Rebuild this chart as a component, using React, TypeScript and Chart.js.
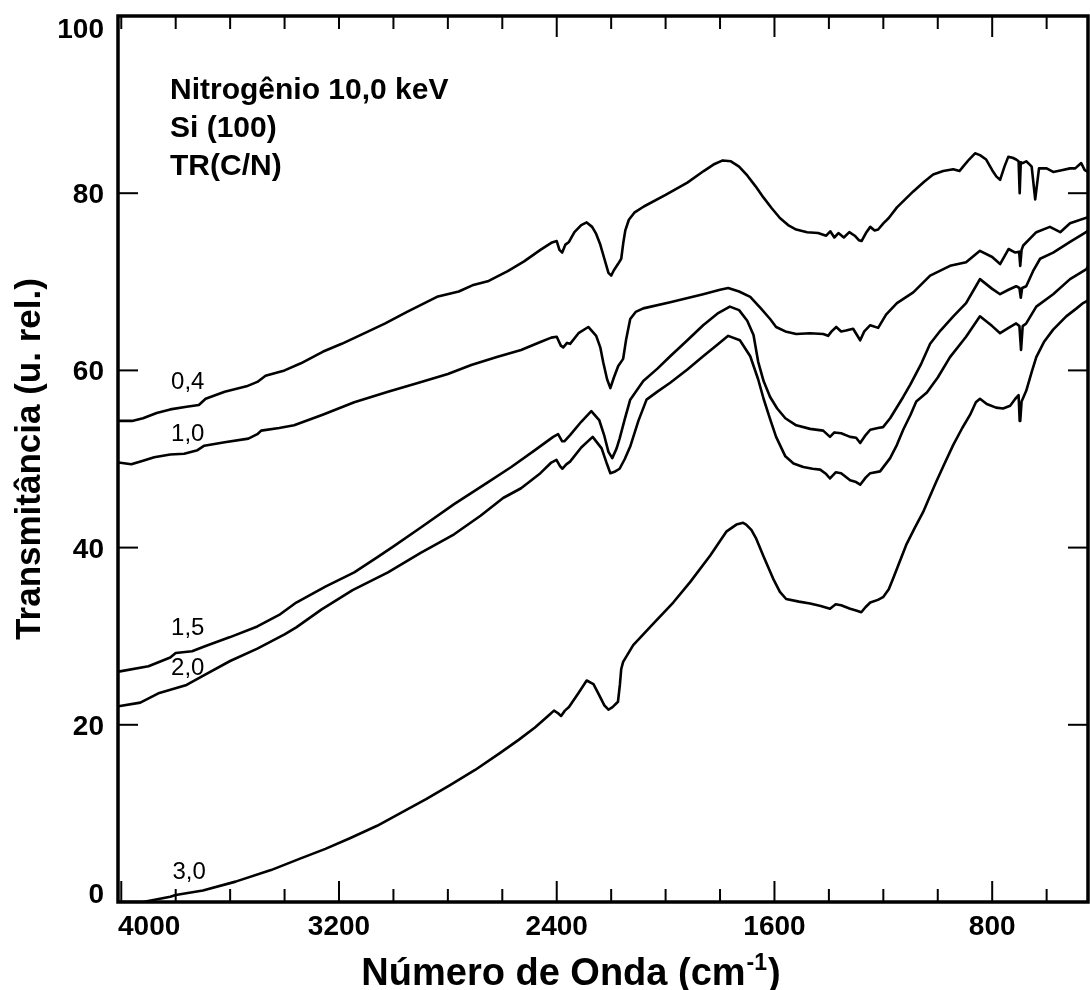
import React, { useEffect, useRef } from 'react';
import { Chart, registerables } from 'chart.js';

Chart.register(...registerables);

// ---- axis ranges & ticks ----
const X_LEFT = 4012;
const X_RIGHT = 448;
const Y_MIN = 0;
const Y_MAX = 100;
const X_TICKS = [4000, 3800, 3600, 3400, 3200, 3000, 2800, 2600, 2400, 2200, 2000, 1800, 1600, 1400, 1200, 1000, 800, 600];
const X_TICK_LABELS = [4000, 3200, 2400, 1600, 800];
const X_TOP_MAJOR = [2400, 1600, 800];
const Y_TICKS = [0, 20, 40, 60, 80, 100];

// ---- series (wavenumber cm-1, transmittance) ----
const WN_04 = [4010, 3960, 3920, 3870, 3820, 3760, 3715, 3690, 3620, 3540, 3500, 3470, 3400, 3340, 3260, 3190, 3100, 3030, 2950, 2840, 2760, 2710, 2650, 2580, 2520, 2460, 2420, 2400, 2390, 2380, 2368, 2355, 2335, 2310, 2290, 2270, 2255, 2240, 2225, 2210, 2200, 2190, 2175, 2163, 2155, 2148, 2135, 2115, 2080, 2000, 1920, 1860, 1820, 1790, 1760, 1730, 1700, 1670, 1640, 1610, 1580, 1550, 1520, 1480, 1440, 1410, 1395, 1380, 1365, 1345, 1325, 1305, 1290, 1280, 1262, 1248, 1232, 1219, 1200, 1180, 1150, 1120, 1090, 1050, 1017, 980, 943, 920, 907, 885, 863, 845, 822, 800, 785, 771, 755, 741, 725, 712, 703, 699, 695, 688, 675, 661, 655, 642, 628, 620, 600, 576, 545, 514, 495, 473, 460, 448];
const T_04 = [54.3, 54.3, 54.6, 55.2, 55.6, 55.9, 56.1, 56.8, 57.6, 58.2, 58.7, 59.4, 60.0, 60.8, 62.1, 63.0, 64.3, 65.3, 66.6, 68.3, 68.9, 69.6, 70.1, 71.2, 72.3, 73.6, 74.4, 74.6, 73.6, 73.3, 74.2, 74.5, 75.6, 76.4, 76.7, 76.2, 75.4, 74.2, 72.6, 71.0, 70.7, 71.3, 72.0, 72.6, 74.5, 75.8, 77.0, 77.8, 78.5, 79.8, 81.2, 82.5, 83.3, 83.7, 83.6, 83.0, 82.0, 80.8, 79.5, 78.3, 77.2, 76.4, 75.9, 75.6, 75.5, 75.2, 75.7, 75.0, 75.5, 75.0, 75.6, 75.2, 74.7, 74.6, 75.6, 76.2, 75.8, 75.9, 76.6, 77.2, 78.4, 79.3, 80.2, 81.3, 82.1, 82.5, 82.7, 82.5, 83.0, 83.8, 84.5, 84.3, 83.8, 82.6, 81.9, 81.5, 83.0, 84.1, 84.0, 83.8, 83.6, 80.0, 83.5, 83.4, 83.6, 83.2, 83.0, 79.3, 82.8, 82.8, 82.8, 82.4, 82.6, 82.8, 82.8, 83.4, 82.6, 82.4];

const WN_10 = [4010, 3963, 3920, 3879, 3820, 3769, 3720, 3695, 3620, 3533, 3500, 3486, 3420, 3365, 3260, 3144, 3020, 2898, 2800, 2714, 2620, 2531, 2460, 2420, 2400, 2385, 2376, 2362, 2351, 2320, 2284, 2255, 2240, 2229, 2215, 2203, 2190, 2174, 2156, 2145, 2130, 2110, 2082, 1983, 1862, 1800, 1770, 1730, 1689, 1650, 1616, 1594, 1560, 1520, 1470, 1421, 1403, 1390, 1373, 1355, 1337, 1311, 1285, 1270, 1248, 1219, 1190, 1150, 1090, 1028, 955, 896, 845, 800, 771, 740, 715, 701, 697, 692, 686, 638, 588, 550, 514, 448];
const T_10 = [49.6, 49.4, 49.8, 50.2, 50.5, 50.6, 51.0, 51.5, 51.9, 52.3, 52.8, 53.2, 53.5, 53.8, 55.0, 56.4, 57.6, 58.7, 59.6, 60.6, 61.5, 62.3, 63.2, 63.7, 63.8, 62.8, 62.6, 63.1, 63.0, 64.2, 64.9, 63.9, 62.6, 60.9, 59.0, 58.0, 59.2, 60.5, 61.3, 63.5, 65.8, 66.6, 67.0, 67.7, 68.6, 69.1, 69.3, 68.9, 68.3, 67.0, 65.8, 64.9, 64.4, 64.1, 64.2, 64.1, 63.9, 64.4, 64.9, 64.4, 64.5, 64.7, 63.4, 64.4, 65.1, 64.8, 66.3, 67.6, 68.8, 70.7, 71.8, 72.2, 73.5, 72.8, 72.0, 73.7, 73.3, 73.4, 71.8, 73.6, 74.1, 75.6, 76.2, 75.6, 76.6, 77.3];

const WN_15 = [4010, 3900, 3820, 3800, 3740, 3690, 3600, 3500, 3420, 3357, 3250, 3144, 3060, 2997, 2898, 2777, 2652, 2567, 2480, 2413, 2395, 2380, 2372, 2351, 2310, 2273, 2244, 2225, 2210, 2196, 2180, 2169, 2150, 2130, 2082, 2030, 1983, 1920, 1862, 1810, 1764, 1730, 1700, 1677, 1660, 1640, 1616, 1590, 1560, 1520, 1469, 1421, 1396, 1380, 1355, 1322, 1300, 1285, 1265, 1248, 1220, 1201, 1175, 1153, 1127, 1101, 1060, 1028, 990, 943, 896, 860, 845, 800, 771, 740, 712, 700, 695, 690, 675, 650, 624, 576, 514, 455, 448];
const T_15 = [26.0, 26.6, 27.6, 28.1, 28.3, 28.9, 29.9, 31.1, 32.4, 33.8, 35.6, 37.2, 38.9, 40.2, 42.3, 44.9, 47.4, 49.1, 51.0, 52.5, 52.8, 52.0, 52.0, 52.7, 54.2, 55.4, 54.4, 52.6, 50.8, 50.1, 51.2, 52.3, 54.5, 56.7, 58.8, 60.2, 61.6, 63.4, 65.1, 66.4, 67.2, 66.8, 65.6, 64.0, 61.0, 58.8, 57.0, 55.7, 54.6, 53.8, 53.4, 53.2, 52.5, 53.0, 52.9, 52.5, 52.4, 51.8, 52.7, 53.3, 53.5, 53.6, 54.6, 55.7, 57.0, 58.4, 60.8, 63.0, 64.5, 66.1, 67.6, 69.5, 70.3, 69.2, 68.6, 69.1, 69.5, 69.3, 68.2, 69.3, 69.5, 71.2, 72.6, 73.3, 74.5, 75.6, 75.8];

const WN_20 = [4010, 3930, 3860, 3760, 3690, 3600, 3500, 3400, 3357, 3265, 3150, 3020, 2900, 2777, 2680, 2597, 2531, 2460, 2420, 2401, 2388, 2379, 2365, 2351, 2310, 2268, 2235, 2215, 2203, 2185, 2169, 2150, 2130, 2100, 2070, 2030, 1983, 1920, 1862, 1810, 1770, 1727, 1689, 1660, 1640, 1616, 1594, 1560, 1530, 1494, 1460, 1432, 1410, 1396, 1375, 1355, 1322, 1300, 1285, 1265, 1248, 1212, 1175, 1150, 1127, 1100, 1079, 1040, 1000, 955, 896, 845, 800, 771, 740, 712, 700, 694, 688, 675, 638, 576, 514, 455, 448];
const T_20 = [22.1, 22.5, 23.6, 24.5, 25.7, 27.2, 28.6, 30.2, 31.0, 33.0, 35.2, 37.2, 39.4, 41.5, 43.6, 45.6, 46.7, 48.4, 49.6, 49.9, 49.2, 48.9, 49.4, 49.7, 51.3, 52.5, 51.2, 49.4, 48.4, 48.6, 48.9, 50.0, 51.4, 54.3, 56.7, 57.6, 58.6, 60.1, 61.6, 62.9, 63.9, 63.4, 61.6, 59.0, 56.8, 54.5, 52.5, 50.3, 49.5, 49.1, 48.9, 48.8, 48.3, 47.8, 48.5, 48.4, 47.6, 47.4, 47.1, 47.9, 48.4, 48.6, 50.1, 51.6, 53.3, 55.0, 56.5, 57.5, 59.2, 61.5, 63.8, 66.1, 65.0, 64.2, 64.8, 65.3, 65.0, 62.3, 65.0, 65.3, 67.2, 68.6, 70.3, 71.4, 71.7];

const WN_30 = [4010, 3920, 3820, 3800, 3700, 3580, 3450, 3343, 3250, 3160, 3060, 2976, 2880, 2792, 2700, 2609, 2540, 2480, 2432, 2410, 2395, 2384, 2370, 2355, 2320, 2290, 2265, 2245, 2225, 2210, 2195, 2175, 2168, 2163, 2156, 2119, 2046, 1972, 1910, 1836, 1777, 1740, 1715, 1704, 1685, 1667, 1640, 1605, 1580, 1557, 1510, 1469, 1430, 1396, 1375, 1355, 1322, 1300, 1281, 1265, 1248, 1220, 1201, 1180, 1164, 1140, 1116, 1085, 1054, 1030, 1006, 975, 943, 910, 881, 860, 845, 820, 786, 760, 734, 715, 703, 699, 697, 692, 675, 655, 638, 610, 576, 528, 490, 466, 448];
const T_30 = [0.0, 0.0, 0.6, 0.8, 1.3, 2.3, 3.6, 4.9, 6.0, 7.2, 8.6, 10.0, 11.6, 13.2, 14.9, 16.8, 18.3, 19.7, 21.0, 21.6, 21.3, 21.0, 21.6, 22.0, 23.6, 25.0, 24.6, 23.4, 22.2, 21.7, 22.0, 22.6, 24.5, 26.3, 27.1, 29.0, 31.4, 33.8, 36.1, 39.1, 41.8, 42.6, 42.8, 42.6, 42.0, 41.0, 39.0, 36.5, 35.0, 34.2, 33.9, 33.7, 33.4, 33.1, 33.6, 33.5, 33.1, 32.9, 32.7, 33.3, 33.8, 34.1, 34.4, 35.3, 36.5, 38.4, 40.3, 42.2, 44.0, 45.7, 47.4, 49.5, 51.6, 53.5, 55.0, 56.4, 56.8, 56.2, 55.8, 55.7, 56.0, 56.8, 57.2, 54.3, 54.3, 56.5, 57.7, 59.8, 61.5, 63.2, 64.6, 66.1, 67.0, 67.6, 67.9];

// ---- labels ----
const SERIES_NAMES = ['0,4', '1,0', '1,5', '2,0', '3,0'];
const SERIES_LABEL_WN = [3817, 3817, 3817, 3817, 3812];
const SERIES_LABEL_T = [58.9, 53.0, 31.1, 26.6, 3.6];
const NOTE_LINES = ['Nitrogênio 10,0 keV', 'Si (100)', 'TR(C/N)'];
const NOTE_WN = 3821;
const NOTE_T = [91.9, 87.5, 83.3];
const X_TITLE_MAIN = 'Número de Onda (cm';
const X_TITLE_SUP = '-1';
const X_TITLE_END = ')';
const Y_TITLE = 'Transmitância (u. rel.)';

const SERIES = [
  { name: SERIES_NAMES[0], wn: WN_04, t: T_04 },
  { name: SERIES_NAMES[1], wn: WN_10, t: T_10 },
  { name: SERIES_NAMES[2], wn: WN_15, t: T_15 },
  { name: SERIES_NAMES[3], wn: WN_20, t: T_20 },
  { name: SERIES_NAMES[4], wn: WN_30, t: T_30 },
];

const FONT = '"Liberation Sans", Arial, Helvetica, sans-serif';

const decorPlugin = {
  id: 'decor',
  afterDraw(chart: any) {
    const { ctx, chartArea: a, scales } = chart;
    const xs = scales.x;
    const ys = scales.y;
    ctx.save();
    ctx.strokeStyle = '#000';
    ctx.fillStyle = '#000';

    // frame
    ctx.lineWidth = 3.5;
    ctx.strokeRect(a.left, a.top, a.right - a.left, a.bottom - a.top);

    // inward ticks
    ctx.lineWidth = 2;
    X_TICKS.forEach((v) => {
      const px = xs.getPixelForValue(v);
      if (px <= a.left + 3 || px >= a.right - 3) return;
      const lb = X_TICK_LABELS.includes(v) ? 21 : 13;
      ctx.beginPath();
      ctx.moveTo(px, a.bottom);
      ctx.lineTo(px, a.bottom - lb);
      ctx.stroke();
      const lt = X_TOP_MAJOR.includes(v) ? 21 : 13;
      ctx.beginPath();
      ctx.moveTo(px, a.top);
      ctx.lineTo(px, a.top + lt);
      ctx.stroke();
    });
    Y_TICKS.forEach((v) => {
      const py = ys.getPixelForValue(v);
      if (py >= a.bottom - 3 || py <= a.top + 3) return;
      ctx.beginPath();
      ctx.moveTo(a.left, py);
      ctx.lineTo(a.left + 20, py);
      ctx.stroke();
      ctx.beginPath();
      ctx.moveTo(a.right, py);
      ctx.lineTo(a.right - 20, py);
      ctx.stroke();
    });

    // tick labels
    ctx.font = `bold 28px ${FONT}`;
    ctx.textBaseline = 'alphabetic';
    const cap = 28 * 0.716;
    X_TICK_LABELS.forEach((v) => {
      const px = xs.getPixelForValue(v);
      const txt = String(v);
      const w = ctx.measureText(txt).width;
      let x0 = px - w / 2;
      if (x0 < a.left) x0 = a.left;
      ctx.textAlign = 'left';
      ctx.fillText(txt, x0, a.bottom + 33);
    });
    ctx.textAlign = 'right';
    Y_TICKS.forEach((v) => {
      let py = ys.getPixelForValue(v);
      py = Math.max(a.top + 12, Math.min(a.bottom - 9, py));
      ctx.fillText(String(v), a.left - 14, py + cap / 2);
    });

    // x title with superscript
    const mainFont = `bold 38px ${FONT}`;
    const supFont = `bold 23px ${FONT}`;
    ctx.font = mainFont;
    const w1 = ctx.measureText(X_TITLE_MAIN).width;
    const w3 = ctx.measureText(X_TITLE_END).width;
    ctx.font = supFont;
    const w2 = ctx.measureText(X_TITLE_SUP).width;
    const total = w1 + w2 + 2 + w3;
    const cx = a.left + 453;
    const base = a.bottom + 83;
    let x = cx - total / 2;
    ctx.textAlign = 'left';
    ctx.font = mainFont;
    ctx.fillText(X_TITLE_MAIN, x, base);
    x += w1 + 1;
    ctx.font = supFont;
    ctx.fillText(X_TITLE_SUP, x, base - 15);
    x += w2 + 1;
    ctx.font = mainFont;
    ctx.fillText(X_TITLE_END, x, base);

    // y title
    ctx.save();
    ctx.translate(40, a.top + 443);
    ctx.rotate(-Math.PI / 2);
    ctx.font = `bold 35px ${FONT}`;
    ctx.textAlign = 'center';
    ctx.textBaseline = 'alphabetic';
    ctx.fillText(Y_TITLE, 0, 0);
    ctx.restore();

    // note block
    ctx.font = `bold 30px ${FONT}`;
    ctx.textAlign = 'left';
    ctx.textBaseline = 'alphabetic';
    const ncap = 30 * 0.716;
    NOTE_LINES.forEach((line, i) => {
      const px = xs.getPixelForValue(NOTE_WN);
      const py = ys.getPixelForValue(NOTE_T[i]);
      ctx.fillText(line, px, py + ncap / 2);
    });

    // series labels
    ctx.font = `24px ${FONT}`;
    const scap = 24 * 0.716;
    SERIES_NAMES.forEach((name, i) => {
      const px = xs.getPixelForValue(SERIES_LABEL_WN[i]);
      const py = ys.getPixelForValue(SERIES_LABEL_T[i]);
      ctx.fillText(name, px, py + scap / 2);
    });

    ctx.restore();
  },
};

export default function App() {
  const ref = useRef<HTMLCanvasElement | null>(null);
  useEffect(() => {
    document.body.style.margin = '0';
    const canvas = ref.current;
    if (!canvas) return;
    const chart = new Chart(canvas, {
      type: 'line',
      data: {
        datasets: SERIES.map((s) => ({
          label: s.name,
          data: s.wn.map((w, i) => ({ x: w, y: s.t[i] })),
          borderColor: '#000',
          backgroundColor: '#000',
          borderWidth: 2.6,
          borderJoinStyle: 'round' as const,
          borderCapStyle: 'round' as const,
          pointRadius: 0,
          fill: false,
          tension: 0,
        })),
      },
      options: {
        responsive: false,
        animation: false,
        devicePixelRatio: 1,
        layout: { padding: { left: 118, right: 2, top: 16, bottom: 88 } },
        plugins: { legend: { display: false }, tooltip: { enabled: false } },
        scales: {
          x: { type: 'linear', reverse: true, min: X_RIGHT, max: X_LEFT, display: false },
          y: { type: 'linear', min: Y_MIN, max: Y_MAX, display: false },
        },
      },
      plugins: [decorPlugin],
    });
    return () => chart.destroy();
  }, []);
  return (
    <div style={{ position: 'absolute', left: 0, top: 0, width: 1090, height: 990, background: '#fff' }}>
      <canvas ref={ref} width={1090} height={990} style={{ width: 1090, height: 990, display: 'block' }} />
    </div>
  );
}
